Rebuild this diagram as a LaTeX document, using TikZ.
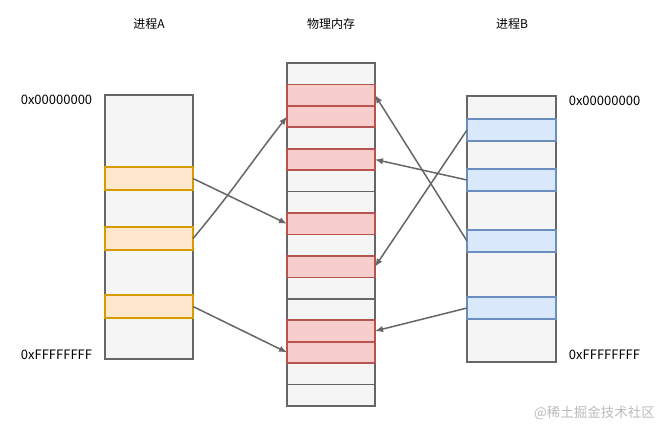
\documentclass[tikz,border=0pt]{standalone}
\usepackage{fontspec}
\setmainfont{Noto Sans CJK SC}
\usetikzlibrary{arrows.meta}
\definecolor{grayfill}{HTML}{F5F5F5}
\definecolor{grayline}{HTML}{666666}
\definecolor{orangefill}{HTML}{FFE6CC}
\definecolor{orangeline}{HTML}{D79B00}
\definecolor{redfill}{HTML}{F8CECC}
\definecolor{redline}{HTML}{B85450}
\definecolor{bluefill}{HTML}{DAE8FC}
\definecolor{blueline}{HTML}{6C8EBF}
\definecolor{markcol}{HTML}{BBBBBB}
\tikzset{
  box/.style={draw=grayline, fill=grayfill, line width=1.7pt, inner sep=0pt, outer sep=0pt, anchor=north west, minimum width=88pt},
  obox/.style={box, draw=orangeline, fill=orangefill, minimum height=23pt},
  rbox/.style={box, draw=redline, fill=redfill},
  bbox/.style={box, draw=blueline, fill=bluefill, minimum width=89pt, minimum height=22pt},
  mrow/.style={box, minimum height=21.44pt},
  link/.style={draw=grayline, line width=1.5pt, -{Latex[length=8pt,width=6.5pt]}},
  lbl/.style={font=\fontsize{12}{14}\selectfont, inner sep=0pt},
  addr/.style={font=\fontsize{13}{15}\selectfont, inner sep=0pt},
}
\begin{document}
\begin{tikzpicture}[x=1pt,y=-1pt]
\useasboundingbox (0,0) rectangle (660,428);
% titles
\node[lbl] (tA) at (149,24) {进程A};
\node[lbl] (tM) at (331,24) {物理内存};
\node[lbl] (tB) at (512,24) {进程B};
% address labels
\node[addr] (la0) at (56.5,100) {0x00000000};
\node[addr] (laF) at (56.5,355) {0xFFFFFFFF};
\node[addr] (lb0) at (604.5,101) {0x00000000};
\node[addr] (lbF) at (604.5,355) {0xFFFFFFFF};
% process A
\node[box, minimum height=264pt] (colA) at (105,95) {};
\node[obox] (a1) at (105,167) {};
\node[obox] (a2) at (105,227) {};
\node[obox] (a3) at (105,295) {};
% process B
\node[box, minimum width=89pt, minimum height=266pt] (colB) at (467,96) {};
\node[bbox] (b1) at (467,119) {};
\node[bbox] (b2) at (467,169) {};
\node[bbox] (b3) at (467,230) {};
\node[bbox] (b4) at (467,297) {};
% physical memory rows
\foreach \i in {0,...,15} {
  \node[mrow] (m\i) at (287,{63+21.44*\i}) {};
}
\foreach \i in {1,2,4,7,9,12,13} {
  \node[mrow, rbox] (r\i) at (287,{63+21.44*\i}) {};
}
% connectors
\draw[link] (a1.east) -- (r7.west);
\draw[link] (a2.east) to[out=50,in=232] (r2.west);
\draw[link] (a3.east) -- (r13.west);
\draw[link] (b1.west) -- (r9.east);
\draw[link] (b2.west) -- (r4.east);
\draw[link] (b3.west) -- (r1.east);
\draw[link] (b4.west) -- (r12.east);
% watermark
\node[font=\fontsize{13.5}{15}\selectfont, text=markcol, inner sep=0pt] (wm) at (594.5,413) {@稀土掘金技术社区};
\end{tikzpicture}
\end{document}
